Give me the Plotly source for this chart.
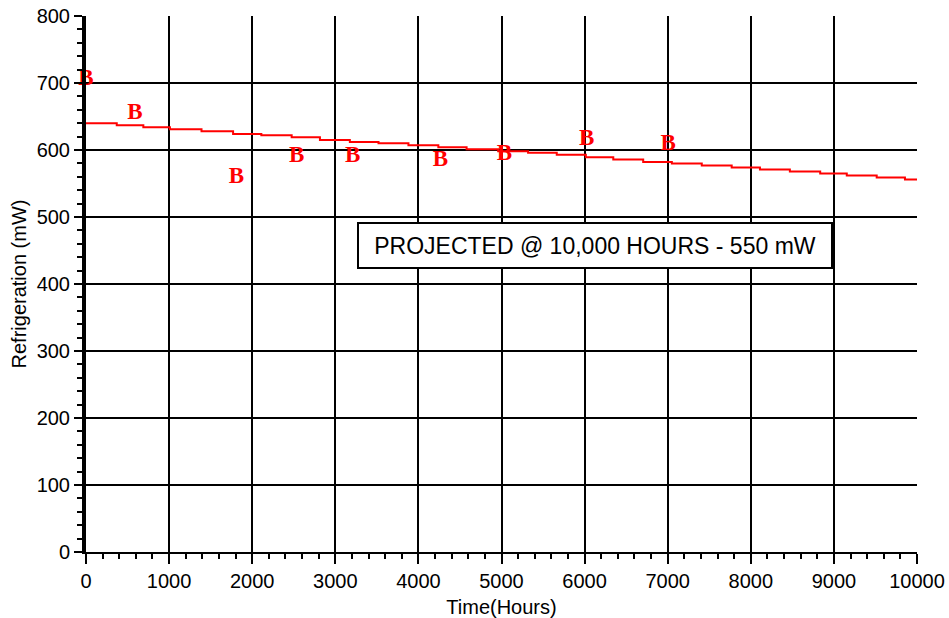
import plotly.graph_objects as go

# Step line (projected refrigeration)
step_hours = [0, 370, 690, 1010, 1390, 1770, 2110, 2475, 2815, 3175, 3520, 3880, 4240, 4580,
              4960, 5320, 5665, 6015, 6345, 6705, 7050, 7410, 7770, 8110, 8470, 8835, 9155,
              9515, 9855, 10000]
step_mw = [640, 637, 634, 631, 628, 624, 622, 619, 615, 612, 610, 607, 604, 601,
           598, 596, 593, 589, 586, 582, 580, 577, 574, 571, 568, 565, 562,
           559, 556, 556]

# Measured points (B markers)
b_hours = [0, 590, 1810, 2535, 3210, 4265, 5035, 6025, 7005]
b_mw = [705, 655, 560, 590, 590, 584, 593, 616, 609]
b_label = "B"

x_ticks = [0, 1000, 2000, 3000, 4000, 5000, 6000, 7000, 8000, 9000, 10000]
y_ticks = [0, 100, 200, 300, 400, 500, 600, 700, 800]

fig = go.Figure()
fig.add_trace(go.Scatter(
    x=step_hours, y=step_mw, mode="lines", line=dict(color="#ff0000", width=2, shape="hv"),
    showlegend=False, hoverinfo="skip"))
fig.add_trace(go.Scatter(
    x=b_hours, y=b_mw, mode="text", text=[b_label] * len(b_hours),
    textposition="middle center",
    textfont=dict(family="Liberation Serif", size=23, color="#ff0000", weight="bold"),
    cliponaxis=False, showlegend=False))

fig.add_annotation(
    x=6125, y=457, xref="x", yref="y", showarrow=False,
    text="PROJECTED @ 10,000 HOURS - 550 mW",
    font=dict(family="Liberation Sans", size=23, color="black"),
    bordercolor="black", borderwidth=2, borderpad=4, bgcolor="white",
    width=464, height=35)

axis_font = dict(family="Liberation Sans", size=20, color="black")
fig.update_xaxes(
    range=[0, 10000], tickvals=x_ticks, ticktext=[str(v) for v in x_ticks],
    showgrid=True, gridcolor="black", gridwidth=2, zeroline=False,
    showline=True, linecolor="black", linewidth=2, automargin=False,
    ticks="outside", ticklen=10, tickwidth=2, tickcolor="black",
    minor=dict(dtick=200, ticks="outside", ticklen=5, tickwidth=2, tickcolor="black", showgrid=False),
    tickfont=axis_font,
    title=dict(text="Time(Hours)", font=axis_font, standoff=10))
fig.update_yaxes(
    range=[0, 800], tickvals=y_ticks, ticktext=[str(v) for v in y_ticks],
    showgrid=True, gridcolor="black", gridwidth=2, zeroline=False,
    showline=True, linecolor="black", linewidth=4, automargin=False,
    ticks="outside", ticklen=8, tickwidth=2, tickcolor="black",
    minor=dict(dtick=20, ticks="outside", ticklen=5, tickwidth=2, tickcolor="black", showgrid=False),
    tickfont=axis_font,
    title=dict(text="Refrigeration (mW)", font=axis_font, standoff=6))

fig.update_layout(
    width=949, height=618,
    margin=dict(l=86, r=32, t=16, b=66),
    plot_bgcolor="white", paper_bgcolor="white",
)

fig.write_html("out.html")
